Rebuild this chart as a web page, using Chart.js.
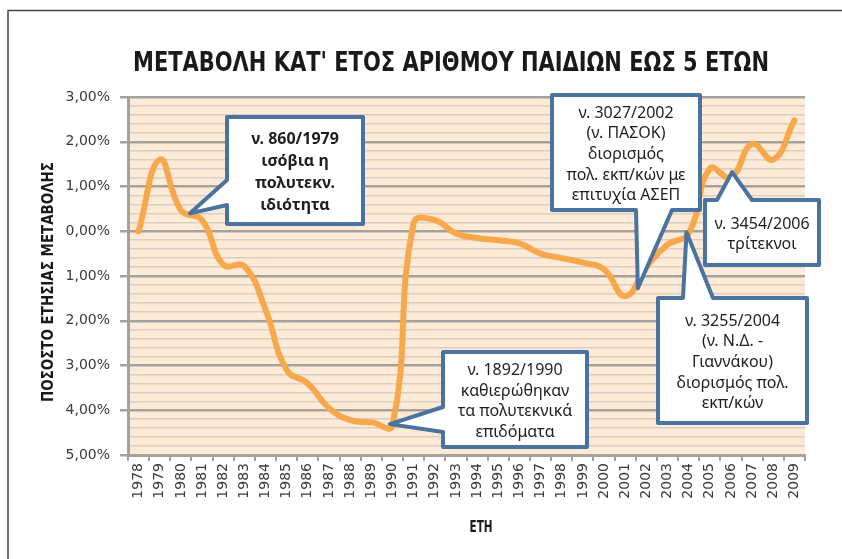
<!DOCTYPE html>
<html>
<head>
<meta charset="utf-8">
<script src="https://cdn.jsdelivr.net/npm/chart.js@4.4.0/dist/chart.umd.min.js"></script>
<style>
  html, body { margin: 0; padding: 0; background: #fff; }
</style>
</head>
<body>
<canvas id="graph" width="842" height="559"></canvas>
<script>
// years on the x axis
const years = ['1978', '1979', '1980', '1981', '1982', '1983', '1984', '1985',
  '1986', '1987', '1988', '1989', '1990', '1991', '1992', '1993', '1994', '1995',
  '1996', '1997', '1998', '1999', '2000', '2001', '2002', '2003', '2004', '2005',
  '2006', '2007', '2008', '2009'];

// yearly change of the number of children up to 5 years old (%)
const changePct = [0.00, 1.60, 0.47, 0.25, -0.75, -0.78, -1.75, -3.10,
  -3.40, -3.95, -4.22, -4.27, -4.34, 0.18, 0.25, -0.05, -0.15, -0.20,
  -0.27, -0.50, -0.60, -0.70, -0.85, -1.45, -0.80, -0.30, -0.05, 1.40,
  1.20, 1.95, 1.60, 2.48];

const yMin = -5;
const yMax = 3;
const yStep = 0.2;

const chartTitle = "ΜΕΤΑΒΟΛΗ ΚΑΤ' ΕΤΟΣ ΑΡΙΘΜΟΥ ΠΑΙΔΙΩΝ ΕΩΣ 5 ΕΤΩΝ";
const yTitle = 'ΠΟΣΟΣΤΟ ΕΤΗΣΙΑΣ ΜΕΤΑΒΟΛΗΣ';
const xTitle = 'ΕΤΗ';

// callouts: tip is [category index, value], box is [x, y, w, h] in px
const notes = [
  { text: ['ν. 860/1979', 'ισόβια η', 'πολυτεκν.', 'ιδιότητα'], bold: true,
    at: [2.43, 0.40], box: [227, 117, 136, 107], side: 'left', base: [63, 88] },
  { text: ['ν. 3027/2002', '(ν. ΠΑΣΟΚ)', 'διορισμός', 'πολ. εκπ/κών με', 'επιτυχία ΑΣΕΠ'],
    at: [23.6, -1.27], box: [552, 95, 148, 115], side: 'bottom', base: [84, 120] },
  { text: ['ν. 3454/2006', 'τρίτεκνοι'],
    at: [28.05, 1.32], box: [705, 200, 114, 65], side: 'top', base: [12, 47] },
  { text: ['ν. 3255/2004', '(ν. Ν.Δ. -', 'Γιαννάκου)', 'διορισμός πολ.', 'εκπ/κών'],
    at: [25.9, -0.02], box: [658, 298, 149, 125], side: 'top', base: [25, 55] },
  { text: ['ν. 1892/1990', 'καθιερώθηκαν', 'τα πολυτεκνικά', 'επιδόματα'],
    at: [11.88, -4.31], box: [443, 352, 144, 95], side: 'left', base: [55, 80] }
];

const isMajor = v => Math.abs(v - Math.round(v)) < 1e-6;
const fmtPct = v => Math.abs(v).toFixed(2).replace('.', ',') + '%';

function fittedText(ctx, text, x, y, font, width, angle) {
  ctx.save();
  ctx.font = font;
  const w = ctx.measureText(text).width;
  ctx.translate(x, y);
  ctx.rotate(angle || 0);
  ctx.scale(width / w, 1);
  ctx.textAlign = 'center';
  ctx.textBaseline = 'alphabetic';
  ctx.fillStyle = '#1a1a1a';
  ctx.fillText(text, 0, 0);
  ctx.restore();
}

function calloutPath(ctx, b, side, base, tip) {
  const [x, y, w, h] = b;
  ctx.beginPath();
  ctx.moveTo(x, y);
  if (side === 'top') {
    ctx.lineTo(x + base[0], y);
    ctx.lineTo(tip.x, tip.y);
    ctx.lineTo(x + base[1], y);
  }
  ctx.lineTo(x + w, y);
  ctx.lineTo(x + w, y + h);
  if (side === 'bottom') {
    ctx.lineTo(x + base[1], y + h);
    ctx.lineTo(tip.x, tip.y);
    ctx.lineTo(x + base[0], y + h);
  }
  ctx.lineTo(x, y + h);
  if (side === 'left') {
    ctx.lineTo(x, y + base[1]);
    ctx.lineTo(tip.x, tip.y);
    ctx.lineTo(x, y + base[0]);
  }
  ctx.closePath();
}

const decor = {
  id: 'decor',
  beforeDraw(chart) {
    const ctx = chart.ctx;
    const a = chart.chartArea;
    ctx.save();
    ctx.fillStyle = '#ffffff';
    ctx.fillRect(0, 0, chart.width, chart.height);
    ctx.fillStyle = '#fdebd8';
    ctx.fillRect(a.left, a.top, a.right - a.left, a.bottom - a.top);
    // frame of the picture
    ctx.strokeStyle = '#444';
    ctx.lineWidth = 1.5;
    ctx.beginPath();
    ctx.moveTo(8, chart.height);
    ctx.lineTo(8, 10.5);
    ctx.lineTo(chart.width, 10.5);
    ctx.stroke();
    ctx.restore();
    fittedText(ctx, chartTitle, 451, 71, "bold 27px 'DejaVu Sans Condensed', 'DejaVu Sans'", 636);
    fittedText(ctx, yTitle, 53, 282, "bold 16px 'DejaVu Sans Condensed', 'DejaVu Sans'", 240, -Math.PI / 2);
    fittedText(ctx, xTitle, 481, 532, "bold 16px 'DejaVu Sans Condensed', 'DejaVu Sans'", 23);
  },
  afterDatasetsDraw(chart) {
    const ctx = chart.ctx;
    const xs = chart.scales.x;
    const ys = chart.scales.y;
    notes.forEach(n => {
      const tip = { x: xs.getPixelForValue(n.at[0]), y: ys.getPixelForValue(n.at[1]) };
      ctx.save();
      calloutPath(ctx, n.box, n.side, n.base, tip);
      ctx.fillStyle = '#ffffff';
      ctx.fill();
      ctx.lineWidth = 4;
      ctx.lineJoin = 'round';
      ctx.strokeStyle = '#4a73a0';
      ctx.stroke();
      ctx.fillStyle = '#1e1e1e';
      ctx.font = (n.bold ? 'bold ' : '') + "16px 'Noto Sans'";
      ctx.textAlign = 'center';
      ctx.textBaseline = 'middle';
      const lh = n.bold ? 22 : 20.6;
      const cx = n.box[0] + n.box[2] / 2;
      const cy = n.box[1] + n.box[3] / 2 + 2;
      n.text.forEach((t, i) => {
        ctx.fillText(t, cx, cy + (i - (n.text.length - 1) / 2) * lh);
      });
      ctx.restore();
    });
  }
};

const ctx = document.getElementById('graph').getContext('2d');
const graph = new Chart(ctx, {
  type: 'line',
  data: {
    labels: years,
    datasets: [{
      data: changePct,
      borderColor: '#f7a84a',
      borderWidth: 6,
      borderCapStyle: 'round',
      borderJoinStyle: 'round',
      pointRadius: 0,
      tension: 0.45,
      fill: false
    }]
  },
  options: {
    responsive: false,
    animation: false,
    devicePixelRatio: 1,
    layout: { padding: { left: 0, top: 97, right: 37, bottom: 0 } },
    plugins: {
      legend: { display: false },
      title: { display: false },
      tooltip: { enabled: false }
    },
    scales: {
      x: {
        offset: true,
        afterFit: s => { s.height = 104; },
        grid: {
          offset: true,
          drawOnChartArea: false,
          tickLength: 6,
          color: '#a5a29c',
          lineWidth: 2
        },
        border: { color: '#a5a29c', width: 3 },
        ticks: {
          autoSkip: false,
          maxRotation: 90,
          minRotation: 90,
          padding: 2,
          color: '#3a3a3a',
          font: { family: "'DejaVu Sans'", size: 14 }
        }
      },
      y: {
        min: yMin,
        max: yMax,
        afterFit: s => { s.width = 128; },
        grid: {
          color: c => isMajor(c.tick.value) ? '#a5a29c' : '#d8cfc5',
          lineWidth: c => isMajor(c.tick.value) ? 2.5 : 1.5,
          tickColor: c => isMajor(c.tick.value) ? '#a5a29c' : 'rgba(0,0,0,0)',
          tickLength: 8
        },
        border: { color: '#a5a29c', width: 3 },
        ticks: {
          stepSize: yStep,
          autoSkip: false,
          padding: 10,
          color: '#3a3a3a',
          font: { family: "'DejaVu Sans'", size: 14 },
          callback: v => isMajor(v) ? fmtPct(v) : ''
        }
      }
    }
  },
  plugins: [decor]
});
</script>
</body>
</html>
